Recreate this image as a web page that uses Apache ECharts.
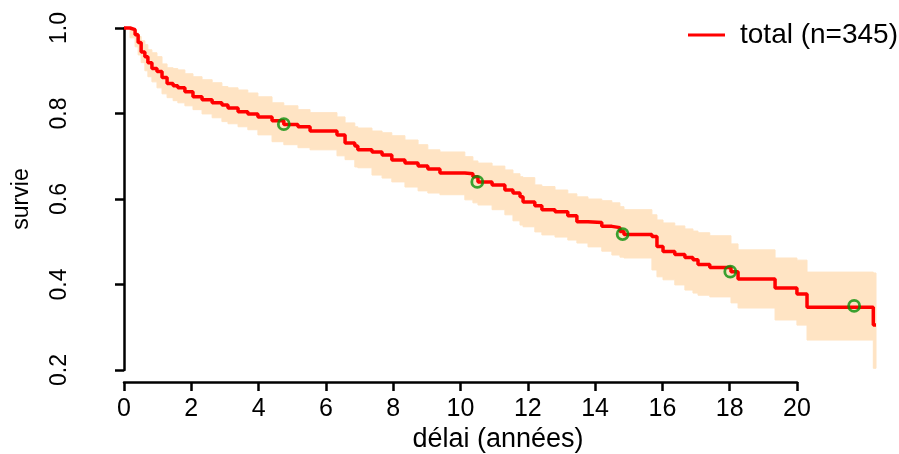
<!DOCTYPE html>
<html><head><meta charset="utf-8">
<script src="https://cdn.jsdelivr.net/npm/echarts@6/dist/echarts.min.js"></script>
<style>html,body{margin:0;padding:0;background:#fff}#c{width:899px;height:454px}</style>
</head><body><div id="c"></div>
<script>
const times = [0, 0.18, 0.33, 0.42, 0.51, 0.62, 0.71, 0.83, 0.98, 1.13, 1.28, 1.46, 1.60, 1.81, 2.05, 2.32, 2.62, 2.91, 3.09, 3.39, 3.68, 3.98, 4.40, 4.75, 5.17, 5.53, 6.33, 6.57, 6.86, 6.95, 7.37, 7.67, 7.96, 8.35, 8.74, 9.03, 9.39, 10.13, 10.37, 10.52, 10.94, 11.32, 11.56, 11.77, 11.86, 12.21, 12.42, 12.81, 13.19, 13.46, 13.79, 14.20, 14.50, 14.74, 14.86, 15.69, 15.84, 16.02, 16.37, 16.67, 16.91, 17.06, 17.41, 18.04, 18.25, 19.35, 20.00, 20.30, 22.27, 22.35];
const survival = [1.0, 0.996, 0.984, 0.966, 0.944, 0.933, 0.919, 0.905, 0.898, 0.884, 0.870, 0.865, 0.860, 0.851, 0.839, 0.832, 0.825, 0.820, 0.813, 0.804, 0.799, 0.792, 0.783, 0.774, 0.769, 0.759, 0.750, 0.731, 0.724, 0.715, 0.710, 0.703, 0.691, 0.684, 0.677, 0.670, 0.661, 0.659, 0.652, 0.640, 0.633, 0.621, 0.614, 0.605, 0.593, 0.584, 0.575, 0.570, 0.561, 0.547, 0.545, 0.536, 0.533, 0.524, 0.517, 0.512, 0.489, 0.477, 0.470, 0.463, 0.458, 0.447, 0.440, 0.430, 0.413, 0.392, 0.378, 0.347, 0.305, 0.305];
const upper = [1.0, 0.996, 0.989, 0.980, 0.970, 0.961, 0.949, 0.942, 0.933, 0.916, 0.907, 0.905, 0.902, 0.893, 0.886, 0.879, 0.872, 0.863, 0.860, 0.855, 0.848, 0.839, 0.825, 0.818, 0.809, 0.802, 0.792, 0.778, 0.769, 0.766, 0.759, 0.755, 0.748, 0.738, 0.727, 0.715, 0.710, 0.699, 0.689, 0.684, 0.677, 0.668, 0.659, 0.652, 0.650, 0.633, 0.629, 0.621, 0.612, 0.605, 0.600, 0.596, 0.591, 0.582, 0.575, 0.563, 0.551, 0.544, 0.537, 0.530, 0.525, 0.521, 0.514, 0.495, 0.481, 0.462, 0.457, 0.429, 0.427, 0.427];
const lower = [1.0, 0.977, 0.956, 0.937, 0.919, 0.900, 0.886, 0.874, 0.860, 0.846, 0.837, 0.830, 0.825, 0.818, 0.809, 0.799, 0.790, 0.781, 0.776, 0.769, 0.762, 0.750, 0.734, 0.727, 0.720, 0.715, 0.701, 0.692, 0.675, 0.673, 0.656, 0.649, 0.640, 0.628, 0.619, 0.614, 0.610, 0.598, 0.591, 0.586, 0.575, 0.563, 0.549, 0.539, 0.535, 0.523, 0.516, 0.511, 0.504, 0.497, 0.488, 0.478, 0.469, 0.464, 0.462, 0.434, 0.418, 0.411, 0.399, 0.387, 0.380, 0.375, 0.371, 0.357, 0.345, 0.317, 0.305, 0.270, 0.204, 0.204];
const markTimes = [4.75, 10.5, 14.82, 18.02, 21.7];
const markSurvival = [0.775, 0.64, 0.518, 0.43, 0.35];
const xTickValues = [0, 2, 4, 6, 8, 10, 12, 14, 16, 18, 20];
const yTickValues = [0.2, 0.4, 0.6, 0.8, 1.0];
const seriesName = 'total (n=345)';
const xTitle = 'délai (années)';
const yTitle = 'survie';

const FONT = 'Liberation Sans, Arial, sans-serif';
const chart = echarts.init(document.getElementById('c'), null, {renderer: 'canvas'});
const tMax = times[times.length - 1];

const option = {
  backgroundColor: '#ffffff',
  animation: false,
  grid: [
    {left: 124, top: 28, width: 752, bottom: 84, outerBoundsMode: 'none'},
    {left: 124, top: 28, right: 102, bottom: 84, outerBoundsMode: 'none'}
  ],
  legend: {
    data: [seriesName],
    left: 688, top: 21, padding: 0,
    icon: 'rect', itemWidth: 37, itemHeight: 3,
    textStyle: {fontFamily: FONT, fontSize: 28, color: '#000', padding: [0, 0, 0, 10]}
  },
  graphic: [{
    type: 'text', x: 498, y: 440,
    style: {text: xTitle, font: '27px ' + FONT, fill: '#000', textAlign: 'center', textVerticalAlign: 'middle'}
  }],
  xAxis: [
    {gridIndex: 0, type: 'value', min: 0, max: tMax, show: false},
    {
      gridIndex: 1, type: 'value', min: xTickValues[0], max: xTickValues[xTickValues.length - 1], interval: 2,
      offset: 12,
      splitLine: {show: false},
      axisLine: {lineStyle: {color: '#000', width: 2.5}},
      axisTick: {length: 9, lineStyle: {color: '#000', width: 2.5}},
      axisLabel: {fontFamily: FONT, fontSize: 25, color: '#000', margin: 15, showMinLabel: true, showMaxLabel: true}
    }
  ],
  yAxis: [
    {gridIndex: 0, type: 'value', min: yTickValues[0], max: yTickValues[yTickValues.length - 1], show: false},
    {
      gridIndex: 1, type: 'value', min: yTickValues[0], max: yTickValues[yTickValues.length - 1], interval: 0.2,
      offset: 29,
      name: yTitle, nameLocation: 'middle', nameRotate: 90, nameGap: 62,
      nameTextStyle: {fontFamily: FONT, fontSize: 23, color: '#000'},
      splitLine: {show: false},
      axisLine: {show: true, lineStyle: {color: '#000', width: 2.5}},
      axisTick: {show: true, length: 9, lineStyle: {color: '#000', width: 2.5}},
      axisLabel: {fontFamily: FONT, fontSize: 23, color: '#000', rotate: 90, margin: 24,
        formatter: v => v.toFixed(1), showMinLabel: true, showMaxLabel: true}
    }
  ],
  series: [
    {
      type: 'custom', name: 'band', silent: true, xAxisIndex: 0, yAxisIndex: 0, z: 1,
      data: [[0, 1]],
      renderItem: function (params, api) {
        const pts = [];
        const n = times.length;
        for (let i = 0; i < n; i++) {
          if (i > 0) pts.push(api.coord([times[i], upper[i - 1]]));
          pts.push(api.coord([times[i], upper[i]]));
        }
        for (let i = n - 1; i >= 0; i--) {
          pts.push(api.coord([times[i], lower[i]]));
          if (i > 0) pts.push(api.coord([times[i], lower[i - 1]]));
        }
        return {type: 'polygon', shape: {points: pts}, style: {fill: '#FFE4C4', stroke: '#FFE4C4', lineWidth: 1}};
      }
    },
    {
      type: 'line', name: seriesName, step: 'end', xAxisIndex: 0, yAxisIndex: 0, z: 3,
      showSymbol: false, symbol: 'none', clip: false,
      color: '#ff0000',
      lineStyle: {color: '#ff0000', width: 3.5},
      data: times.map((t, i) => [t, survival[i]])
    },
    {
      type: 'scatter', name: 'marks', xAxisIndex: 0, yAxisIndex: 0, z: 4, silent: true, clip: false,
      symbol: 'circle', symbolSize: 11,
      itemStyle: {color: 'rgba(0,0,0,0)', borderColor: '#0a8f0a', borderWidth: 2.8},
      data: markTimes.map((t, i) => [t, markSurvival[i]])
    }
  ]
};
chart.setOption(option);
</script>
</body></html>
